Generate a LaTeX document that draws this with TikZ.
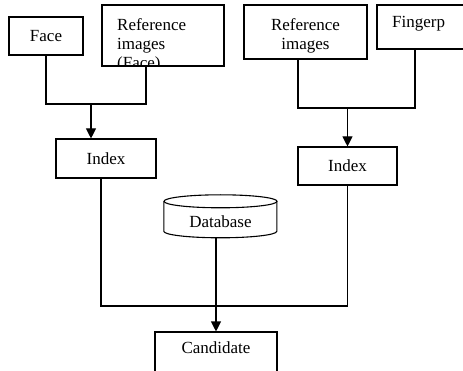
\documentclass[tikz,border=0pt]{standalone}
\usepackage{fontspec}
\setmainfont{Liberation Serif}
\usetikzlibrary{arrows.meta}

\begin{document}
\begin{tikzpicture}[x=1pt,y=-1pt,
	box/.style={draw, line width=1.1pt, inner sep=0pt},
	link/.style={line width=1.1pt},
	arr/.style={link, -{Triangle[length=10pt,width=10pt]}},
	font=\fontsize{17}{19}\selectfont]
	\useasboundingbox (0,0) rectangle (463,371);
	% top row
	\node[box, minimum width=74pt, minimum height=38pt] (face) at (46,36) {Face};
	\node[box, minimum width=122pt, minimum height=61pt] (refL) at (163,35.5) {};
	\begin{scope}
		\clip (refL.south west) rectangle (refL.north east);
		\node[anchor=north west, align=left, inner sep=0pt] (refLtext) at (117,18) {Reference\\images\\(Face)};
	\end{scope}
	\node[box, minimum width=123pt, minimum height=54pt] (refR) at (305.5,32) {};
	\node[anchor=north, align=center, inner sep=0pt] (refRtext) at (305.5,18) {Reference\\images};
	\node[box, minimum width=98pt, minimum height=44pt] (finger) at (426,27) {};
	\node[anchor=base west, inner sep=0pt] (fingertext) at (392,28) {Fingerp};
	% index boxes
	\node[box, minimum width=100pt, minimum height=39pt] (idxL) at (106,158.5) {Index};
	\node[box, minimum width=99pt, minimum height=38pt] (idxR) at (347.5,166) {Index};
	% database drum
	\node[inner sep=0pt, minimum width=113pt, minimum height=43pt] (db) at (220.5,216.5) {};
	\draw[link] (db.north) ++(0,6.5) ellipse [x radius=56.5, y radius=6.5];
	\draw[link] (db.north west) ++(0,6.5) -- ++(0,30)
		arc [start angle=180, end angle=0, x radius=56.5, y radius=6.5] -- ++(0,-30);
	\node[inner sep=0pt] (dbtext) at (220.5,222) {Database};
	% result
	\node[box, minimum width=122pt, minimum height=48pt] (cand) at (216,356) {};
	\node[inner sep=0pt] (candtext) at (216,347.5) {Candidate};
	% joints
	\coordinate (refLout) at (146,66);
	\coordinate (mergeL) at (91,104);
	\coordinate (refRout) at (298,59);
	\coordinate (fingerout) at (415,49);
	\coordinate (mergeR) at (347.5,108);
	\coordinate (idxLout) at (101,178);
	\coordinate (mergeB) at (216,306);
	% connectors
	\draw[link] (face.south) |- (mergeL) -| (refLout);
	\draw[arr] (mergeL) -- (mergeL |- idxL.north);
	\draw[link] (refRout) |- (mergeR) -| (fingerout);
	\draw[arr] (mergeR) -- (idxR.north);
	\draw[link] (idxLout) |- (mergeB) -| (idxR.south);
	\draw[arr] (cand.north |- db.south) -- (cand.north);
\end{tikzpicture}
\end{document}
